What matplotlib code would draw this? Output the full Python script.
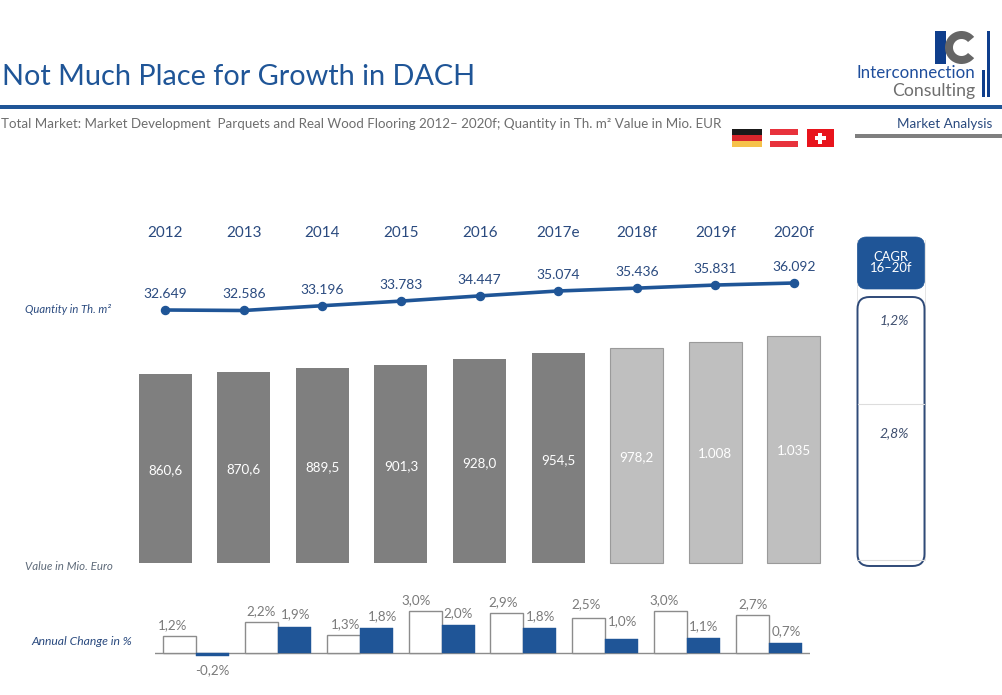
import matplotlib
matplotlib.use("Agg")
import matplotlib.pyplot as plt
from matplotlib.patches import Rectangle, FancyBboxPatch, Wedge

plt.rcParams['font.family'] = ['Lato', 'DejaVu Sans']

W, H = 1002, 695
BLUE = '#1F5597'
DARK = '#2A4A7F'
GREY = '#7F7F7F'
LIGHT = '#BFBFBF'
TXT = '#7A7A7A'

years = ['2012', '2013', '2014', '2015', '2016', '2017e', '2018f', '2019f', '2020f']
quantity = [32649, 32586, 33196, 33783, 34447, 35074, 35436, 35831, 36092]
quantity_labels = ['32.649', '32.586', '33.196', '33.783', '34.447', '35.074', '35.436', '35.831', '36.092']
value = [860.6, 870.6, 889.5, 901.3, 928.0, 954.5, 978.2, 1008, 1035]
value_labels = ['860,6', '870,6', '889,5', '901,3', '928,0', '954,5', '978,2', '1.008', '1.035']
forecast_from = 6
change_quantity = [1.2, 2.2, 1.3, 3.0, 2.9, 2.5, 3.0, 2.7]
change_value = [-0.2, 1.9, 1.8, 2.0, 1.8, 1.0, 1.1, 0.7]
cagr_labels = ['1,2%', '2,8%']


def pct(v):
    return f"{v:.1f}".replace('.', ',') + '%'


fig = plt.figure(figsize=(W / 100, H / 100), dpi=100, facecolor='white')


def px_axes(x0, x1, ytop, ybot, z=1):
    a = fig.add_axes([x0 / W, 1 - ybot / H, (x1 - x0) / W, (ybot - ytop) / H], zorder=z)
    a.patch.set_alpha(0)
    a.axis('off')
    return a


# page layer in pixel coordinates
bg = px_axes(0, W, 0, H, 0)
bg.set_xlim(0, W)
bg.set_ylim(H, 0)

bg.text(2, 77, 'Not Much Place for Growth in DACH', color=BLUE, fontsize=20.8, va='center', ha='left')
bg.add_patch(Rectangle((0, 105), W, 3.5, color=BLUE, lw=0))
bg.text(1, 123.5, 'Total Market: Market Development  Parquets and Real Wood Flooring 2012– 2020f; Quantity in Th. m² Value in Mio. EUR',
        color='#6E6E6E', fontsize=9.6, va='center', ha='left')
bg.text(992, 123.5, 'Market Analysis', color=DARK, fontsize=9.7, va='center', ha='right')
bg.add_patch(Rectangle((855, 134), 147, 3.5, color=GREY, lw=0))

# logo
bg.add_patch(Rectangle((935, 31), 11, 33, color='#0F3E8C', lw=0))
bg.add_patch(Wedge((961.5, 47.5), 16.5, 40, 320, width=8, color='#666666', lw=0))
bg.add_patch(Rectangle((987, 31), 3, 66, color='#0F3E8C', lw=0))
bg.add_patch(Rectangle((982, 70), 3, 27, color='#0F3E8C', lw=0))
bg.text(975, 73, 'Interconnection', color='#1F4E9C', fontsize=12.2, ha='right', va='center')
bg.text(975, 91, 'Consulting', color='#6E6E6E', fontsize=12.7, ha='right', va='center')

# flags
for i, c in enumerate(['#1A1A1A', '#D8262C', '#F6C24A']):
    bg.add_patch(Rectangle((732, 129 + i * 6), 30, 6, color=c, lw=0))
for i, c in enumerate(['#E8323C', '#FFFFFF', '#E8323C']):
    bg.add_patch(Rectangle((770, 129 + i * 6), 28, 6, color=c, lw=0))
bg.add_patch(Rectangle((807, 129), 27, 18, color='#E8141C', lw=0))
bg.add_patch(Rectangle((818.5, 132.5), 4, 11, color='white', lw=0))
bg.add_patch(Rectangle((815, 136), 11, 4, color='white', lw=0))

# row captions
bg.text(25, 309.5, 'Quantity in Th. m²', color=DARK, fontsize=8.1, style='italic', va='center')
bg.text(25, 566.5, 'Value in Mio. Euro', color='#5F6B7A', fontsize=8.3, style='italic', va='center')
bg.text(31, 641.5, 'Annual Change in %', color=DARK, fontsize=8.7, style='italic', va='center')

# CAGR panel
bg.plot([857.5, 857.5], [240, 560], color='#E4E4E4', lw=0.7)
bg.plot([925, 925], [240, 560], color='#E4E4E4', lw=0.7)
bg.add_patch(FancyBboxPatch((857.5, 297), 67, 269, boxstyle='round,pad=0,rounding_size=12',
                            fc='white', ec='#2F4A78', lw=1.4, zorder=2))
bg.plot([858, 924], [404, 404], color='#DDDDDD', lw=0.8, zorder=3)
bg.plot([858, 924], [560, 560], color='#DDDDDD', lw=0.8, zorder=3)
bg.add_patch(FancyBboxPatch((857.5, 237), 67, 52, boxstyle='round,pad=0,rounding_size=9',
                            fc=BLUE, ec=BLUE, lw=0.5, zorder=2))
bg.text(891, 257, 'CAGR', color='white', fontsize=9.4, ha='center', va='center', zorder=4)
bg.text(891, 268.5, '16–20f', color='white', fontsize=9.4, ha='center', va='center', zorder=4)
for lab, y in zip(cagr_labels, [320, 433]):
    bg.text(894.5, y, lab, color='#3F4F6F', fontsize=10, style='italic', ha='center', va='center', zorder=4)

# shared horizontal mapping of the nine years
STEP = 78.6
X0 = 165.2


def xlim_for(x0, x1):
    return (x0 - X0) / STEP, (x1 - X0) / STEP


# year headers + line
ax_line = px_axes(125, 835, 220, 330, 2)
ax_line.set_xlim(*xlim_for(125, 835))
PXQ = 27 / (36092 - 32649)
ax_line.set_ylim(32649 - (330 - 310) / PXQ, 32649 + (310 - 220) / PXQ)
xs = list(range(len(years)))
ax_line.plot(xs, quantity, color=BLUE, lw=2.6, marker='o', ms=5.8, solid_capstyle='round')
for x, q, lab in zip(xs, quantity, quantity_labels):
    ax_line.annotate(lab, (x, q), xytext=(0, 16), textcoords='offset pixels', ha='center', va='center',
                     color=DARK, fontsize=10)
for x, y in zip(xs, years):
    bg.text(X0 + x * STEP, 233, y, color=DARK, fontsize=11, ha='center', va='center')

# bars
ax_bar = px_axes(125, 835, 320, 570, 2)
ax_bar.set_xlim(*xlim_for(125, 835))
PXV = 189 / 860.6
ax_bar.set_ylim(-7 / PXV, 243 / PXV)
for x, v, lab in zip(xs, value, value_labels):
    fc = GREY if x < forecast_from else LIGHT
    ec = 'none' if x < forecast_from else '#9A9A9A'
    ax_bar.bar(x, v, width=53 / STEP, color=fc, edgecolor=ec, linewidth=0.8)
    ax_bar.annotate(lab, (x, v / 2), xytext=(0, -2), textcoords='offset pixels',
                    color='white', fontsize=9.6, ha='center', va='center')

# annual change
ax_ch = px_axes(155, 810, 590, 680, 2)
CSTEP = 81.85
CX0 = 196.0
BW = 33 / CSTEP
ax_ch.set_xlim((155 - CX0) / CSTEP, (810 - CX0) / CSTEP)
PXC = 13.9
ax_ch.set_ylim(-(680 - 653) / PXC, (653 - 590) / PXC)
ax_ch.axhline(0, color='#8C8C8C', lw=1, zorder=1)
white_dx = [-7, 0, 2, -9, -4, -3, -6, 1]
white_dy = [0, 0, 0, 0, 0, 3, 0, 0]
blue_dx = [0, 1, 6, 0, 1, 1, 0, 1]
blue_dy = [0, 0, 0, 0, 0, 6, 0, 0]
for i, (a, b) in enumerate(zip(change_quantity, change_value)):
    ax_ch.bar(i - BW / 2, a, width=BW, fc='white', ec='#8C8C8C', lw=1, zorder=2)
    ax_ch.bar(i + BW / 2, b, width=BW, fc=BLUE, ec=BLUE, lw=0.3, zorder=2)
    ax_ch.annotate(pct(a), (i - BW / 2, a), xytext=(white_dx[i], 11 + white_dy[i]), textcoords='offset pixels',
                   ha='center', va='center', color=TXT, fontsize=9.6)
    ax_ch.annotate(pct(b), (i + BW / 2, max(b, 0)), xytext=(blue_dx[i], (12 if b > 0 else -17) + blue_dy[i]),
                   textcoords='offset pixels', ha='center', va='center', color=TXT, fontsize=9.6)

fig.savefig('out.png', dpi=100)
